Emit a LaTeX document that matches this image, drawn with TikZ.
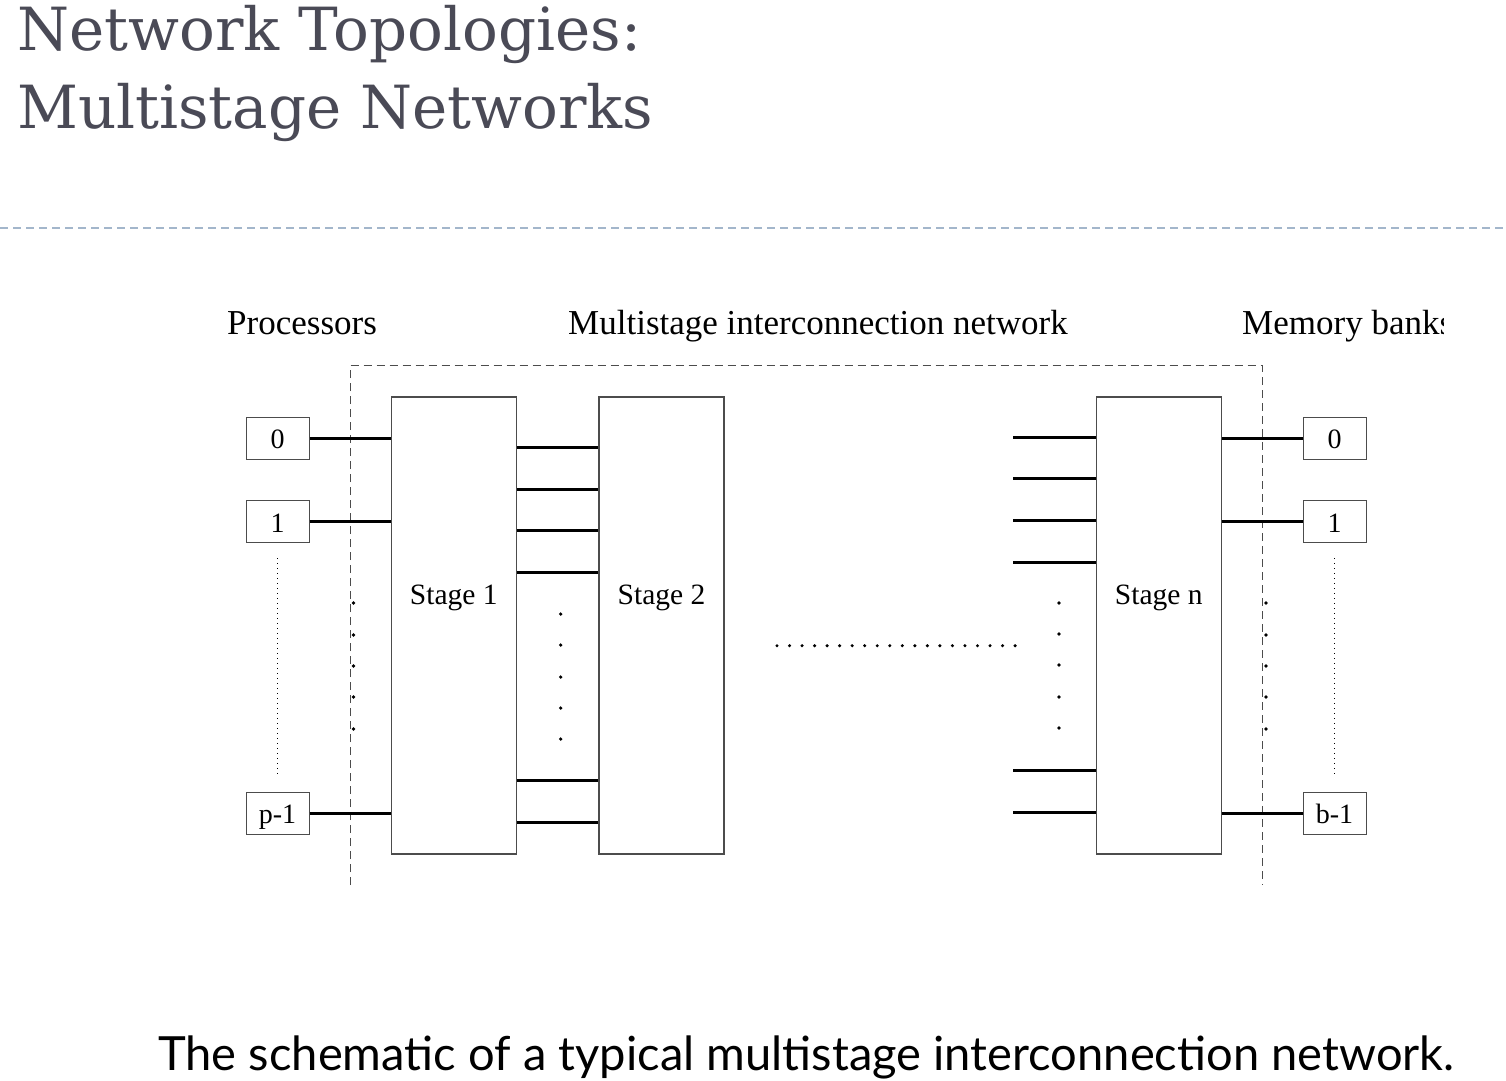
\documentclass[tikz,border=0pt]{standalone}
\usepackage{fontspec}
\setmainfont{Liberation Serif}
\newfontfamily\titlefont{DejaVu Serif}
\newfontfamily\capfont{Lato}
\usetikzlibrary{calc,positioning}

\definecolor{titlegray}{HTML}{4A4A56}
\definecolor{rulecol}{HTML}{A3B6CB}

\begin{document}
\begin{tikzpicture}[x=1pt,y=-1pt,
  box/.style={draw=black!70, line width=1pt, minimum width=63pt, minimum height=42pt, inner sep=0pt, text height=21pt, text depth=0pt, font=\fontsize{28}{30}\selectfont},
  stagebox/.style={draw=black!70, line width=1.1pt, minimum width=125pt, minimum height=457pt, inner sep=0pt},
  stagetxt/.style={font=\fontsize{29.5}{32}\selectfont},
  head/.style={anchor=base west, inner sep=0pt, font=\fontsize{35}{38}\selectfont},
  wire/.style={line width=3pt},
  fence/.style={draw=black!70, line width=1pt, dash pattern=on 8pt off 5pt},
  vdots/.style={line width=1pt, dash pattern=on 1pt off 4pt}]
  \useasboundingbox (0,0) rectangle (1506,1080);

  % title and rule
  \node[anchor=base west, inner sep=0pt, text=titlegray, font=\titlefont\fontsize{59.5}{62}\selectfont] (t1) at (17,50) {Network Topologies:};
  \node[anchor=base west, inner sep=0pt, text=titlegray, font=\titlefont\fontsize{59.5}{62}\selectfont] (t2) at (17,128) {Multistage Networks};
  \draw[rulecol, line width=2pt, dash pattern=on 8pt off 5pt] (0,228) -- (1506,228);

  % headings
  \node[head] (hp) at (227,334) {Processors};
  \node[head] (hn) at (568,334) {Multistage interconnection network};
  \begin{scope}
    \clip (1200,290) rectangle (1443,350);
    \node[head] (hm) at (1242,334) {Memory banks};
  \end{scope}

  % network boundary
  \draw[fence] (350,885) -- (350,365.5) -- (1262,365.5) -- (1262,885);

  % stages
  \node[stagebox] (s1) at (453.8,625.5) {};
  \node[stagebox] (s2) at (661.5,625.5) {};
  \node[stagebox] (sn) at (1158.8,625.5) {};
  \node[stagetxt] at ([yshift=28pt]s1.center) {Stage 1};
  \node[stagetxt] at ([yshift=28pt]s2.center) {Stage 2};
  \node[stagetxt] at ([yshift=28pt]sn.center) {Stage n};

  % processors
  \node[box] (p0) at (277.5,438) {0};
  \node[box] (p1) at (277.5,521.5) {1};
  \node[box] (pl) at (277.5,813) {p-1};
  \draw[wire] (p0) -- (p0 -| s1.west);
  \draw[wire] (p1) -- (p1 -| s1.west);
  \draw[wire] (pl) -- (pl -| s1.west);
  \draw[vdots] (p1.south |- 0,558) -- (p1.south |- 0,777);

  % memory banks
  \node[box] (m0) at (1334.5,438) {0};
  \node[box] (m1) at (1334.5,521.5) {1};
  \node[box] (ml) at (1334.5,813) {b-1};
  \draw[wire] (m0) -- (m0 -| sn.east);
  \draw[wire] (m1) -- (m1 -| sn.east);
  \draw[wire] (ml) -- (ml -| sn.east);
  \draw[vdots] (m1.south |- 0,558) -- (m1.south |- 0,777);

  % links between stage 1 and stage 2
  \foreach \y in {447,489,530,572,780,822}
    \draw[wire] (s1.east |- 0,\y) -- (s2.west |- 0,\y);
  % links into stage n
  \foreach \y in {437,478,520,562,770,812}
    \draw[wire] (sn.west |- 0,\y) -- ++(-83,0);

  % dots
  \foreach \y in {603,635,666,697,729} {
    \fill (353.5,\y) circle (1.8);
    \fill (1266,\y) circle (1.8);
  }
  \foreach \y in {614,645,677,708,739}
    \fill (560.7,\y) circle (1.8);
  \foreach \y in {603,634,665,697,728}
    \fill (1059,\y) circle (1.8);
  \foreach \i in {0,...,19}
    \fill (777+\i*12.53,645.7) circle (1.7);

  % caption
  \node[anchor=base west, inner sep=0pt, font=\capfont\fontsize{47.1}{52}\selectfont] (cap) at (158,1070) {The schematic of a typical multistage interconnection network.};
\end{tikzpicture}
\end{document}
